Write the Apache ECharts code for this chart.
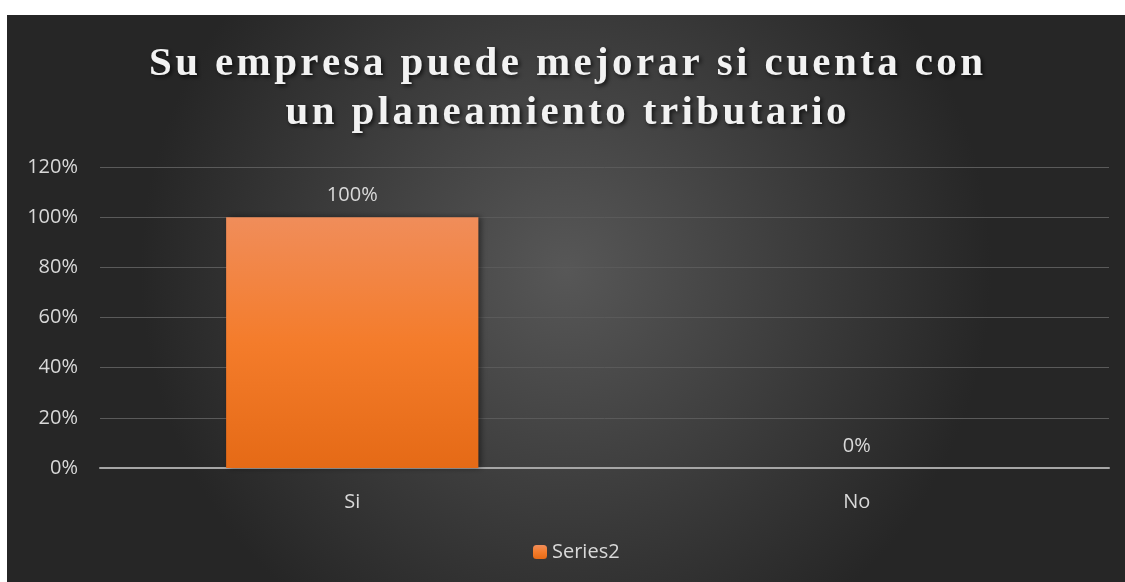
<!DOCTYPE html>
<html>
<head>
<meta charset="utf-8">
<script src="https://cdn.jsdelivr.net/npm/echarts@6/dist/echarts.min.js"></script>
<style>
  html, body { margin: 0; padding: 0; background: #ffffff; }
  #chart { position: absolute; left: 7px; top: 15px; width: 1118px; height: 567px; }
</style>
</head>
<body>
<div id="chart"></div>
<script>
const titleLines = ["Su empresa puede mejorar si cuenta con", "un planeamiento tributario"];
const categories = ["Si", "No"];
const seriesName = "Series2";
const values = [1.0, 0.0];
const yTicks = { min: 0, max: 1.2, interval: 0.2 };

const labelFont = "'Open Sans', 'Noto Sans', sans-serif";
const pct = v => Math.round(v * 100) + "%";

// the title is letter-spaced: wrap every character in a padded rich token
const spaced = line => Array.from(line).map(ch => "{c|" + ch + "}").join("");
const titleRich = titleLines.map(spaced).join("\n");

const chart = echarts.init(document.getElementById("chart"));

const barColor = new echarts.graphic.LinearGradient(0, 0, 0, 1, [
    { offset: 0, color: "#f08d5a" },
    { offset: 0.5, color: "#f47c2b" },
    { offset: 1, color: "#e56a16" },
]);

const option = {
    backgroundColor: new echarts.graphic.RadialGradient(0.5, 0.45, 0.75, [
        { offset: 0, color: "#575757" },
        { offset: 1, color: "#262626" },
    ]),
    title: {
        text: titleRich,
        left: "center",
        top: 20,
        textStyle: {
            rich: {
                c: {
                    fontFamily: "'Liberation Serif', 'DejaVu Serif', serif",
                    fontWeight: "bold",
                    fontSize: 41,
                    lineHeight: 49,
                    padding: [0, 1.7],
                    color: "#f2f2f2",
                    textShadowColor: "rgba(0,0,0,0.7)",
                    textShadowBlur: 4,
                    textShadowOffsetX: 2,
                    textShadowOffsetY: 2,
                },
            },
        },
    },
    legend: {
        data: [seriesName],
        bottom: 15,
        left: 521,
        itemWidth: 14,
        itemHeight: 14,
        itemGap: 5,
        textStyle: {
            fontFamily: labelFont,
            fontSize: 20,
            color: "#d9d9d9",
        },
    },
    grid: {
        left: 93,
        right: 16,
        top: 152,
        bottom: 114,
    },
    xAxis: {
        type: "category",
        data: categories,
        axisLine: { lineStyle: { color: "#a6a6a6", width: 2 } },
        axisTick: { show: false },
        axisLabel: {
            fontFamily: labelFont,
            fontSize: 20,
            color: "#d9d9d9",
            margin: 24,
        },
    },
    yAxis: {
        type: "value",
        min: yTicks.min,
        max: yTicks.max,
        interval: yTicks.interval,
        axisLine: { show: false },
        axisTick: { show: false },
        splitLine: { lineStyle: { color: "#5a5a5a", width: 1 } },
        axisLabel: {
            fontFamily: labelFont,
            fontSize: 20,
            color: "#d9d9d9",
            margin: 22,
            formatter: pct,
        },
    },
    series: [
        {
            name: seriesName,
            type: "bar",
            data: values,
            barWidth: "50%",
            itemStyle: {
                color: barColor,
                shadowColor: "rgba(0,0,0,0.45)",
                shadowBlur: 6,
                shadowOffsetX: 3,
                shadowOffsetY: 0,
            },
            label: {
                show: true,
                position: "top",
                distance: 12,
                fontFamily: labelFont,
                fontSize: 20,
                color: "#d9d9d9",
                formatter: p => pct(p.value),
            },
        },
    ],
};

chart.setOption(option);
window.addEventListener("resize", () => chart.resize());
</script>
</body>
</html>
